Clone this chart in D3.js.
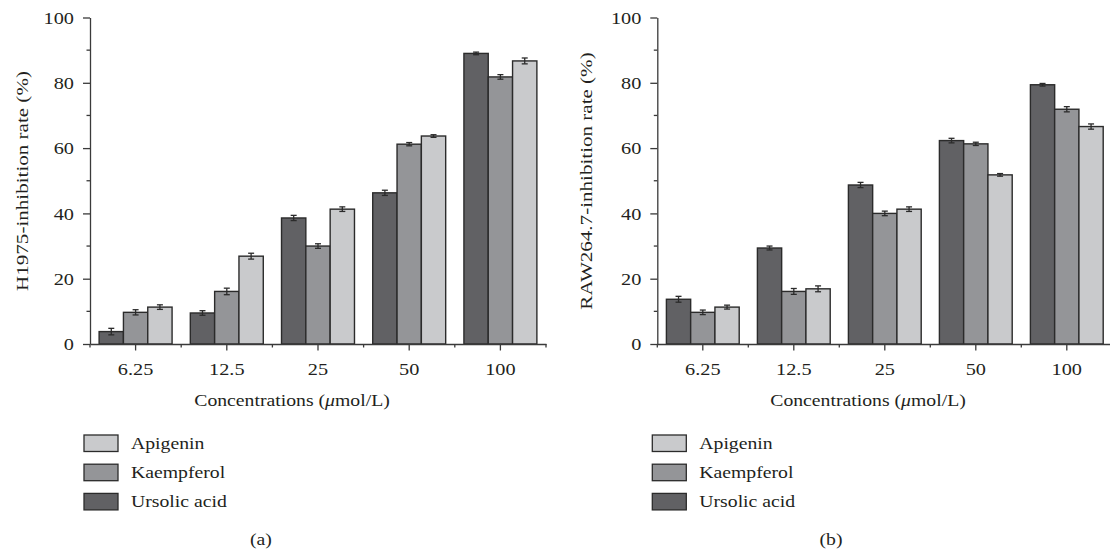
<!DOCTYPE html>
<html>
<head>
<meta charset="utf-8">
<script src="https://cdn.jsdelivr.net/npm/d3@7"></script>
<style>
  body { margin: 0; background: #fff; }
  text { font-family: "Liberation Serif", "Times New Roman", serif; font-size: 17px; fill: #231f20; }
</style>
</head>
<body>
<script>
// inhibition rates

var concentrations = ["6.25", "12.5", "25", "50", "100"];
var compounds = ["Ursolic acid", "Kaempferol", "Apigenin"];
var legendOrder = ["Apigenin", "Kaempferol", "Ursolic acid"];
var yTicks = [0, 20, 40, 60, 80, 100];
var yMinorTicks = [10, 30, 50, 70, 90];

var h1975Ursolic = [3.8, 9.5, 38.6, 46.3, 89.0];
var h1975Kaempferol = [9.7, 16.1, 30.0, 61.2, 81.8];
var h1975Apigenin = [11.3, 26.9, 41.3, 63.7, 86.7];
var h1975UrsolicErr = [1.0, 0.7, 0.8, 0.8, 0.4];
var h1975KaempferolErr = [0.8, 1.0, 0.7, 0.5, 0.7];
var h1975ApigeninErr = [0.7, 0.9, 0.7, 0.4, 0.9];

var rawUrsolic = [13.7, 29.4, 48.7, 62.3, 79.4];
var rawKaempferol = [9.7, 16.1, 40.0, 61.3, 71.9];
var rawApigenin = [11.3, 16.9, 41.3, 51.8, 66.6];
var rawUrsolicErr = [0.9, 0.6, 0.8, 0.7, 0.4];
var rawKaempferolErr = [0.7, 0.9, 0.7, 0.5, 0.8];
var rawApigeninErr = [0.6, 0.9, 0.7, 0.4, 0.8];

var colors = {"Ursolic acid": "#616164", "Kaempferol": "#949598", "Apigenin": "#c9cacc"};
var sx = 1.16;   // the original type is wider than Times
var ink = "#2b2b2b";

var width = 1110, height = 555;
var svg = d3.select("body").append("svg")
    .attr("width", width)
    .attr("height", height);

function label(g, x, y, str, anchor) {
  return g.append("text")
    .attr("transform", "translate(" + x + "," + y + ") scale(" + sx + ",1)")
    .attr("text-anchor", anchor || "start")
    .text(str);
}

function drawPanel(p) {
  var g = svg.append("g");

  var x = d3.scaleBand().domain(concentrations).range([p.left, p.right]);
  var y = d3.scaleLinear().domain([0, 100]).range([344, 17.5]);
  var sub = d3.scaleBand().domain(compounds)
      .range([0, x.bandwidth() * 0.8]);
  var off = x.bandwidth() * 0.1;

  // bars + error bars, one series at a time
  compounds.forEach(function(c, k) {
    var vals = p.values[k], errs = p.errors[k];
    var rows = concentrations.map(function(d, i) { return {cat: d, v: vals[i], e: errs[i]}; });

    g.selectAll(".bar" + k)
      .data(rows)
      .enter().append("rect")
        .attr("x", function(d) { return x(d.cat) + off + sub(c); })
        .attr("y", function(d) { return y(d.v); })
        .attr("width", sub.bandwidth())
        .attr("height", function(d) { return y(0) - y(d.v); })
        .attr("fill", colors[c])
        .attr("stroke", ink)
        .attr("stroke-width", 1.4);

    var eb = g.selectAll(".err" + k)
      .data(rows)
      .enter().append("g")
        .attr("transform", function(d) {
          return "translate(" + (x(d.cat) + off + sub(c) + sub.bandwidth() / 2) + ",0)";
        })
        .attr("stroke", ink)
        .attr("stroke-width", 1.3);
    eb.append("line")
      .attr("y1", function(d) { return y(d.v - d.e); })
      .attr("y2", function(d) { return y(d.v + d.e); });
    eb.append("line").attr("x1", -3).attr("x2", 3)
      .attr("y1", function(d) { return y(d.v + d.e); })
      .attr("y2", function(d) { return y(d.v + d.e); });
    eb.append("line").attr("x1", -3).attr("x2", 3)
      .attr("y1", function(d) { return y(d.v - d.e); })
      .attr("y2", function(d) { return y(d.v - d.e); });
  });

  // axes
  var yAxis = g.append("g")
      .attr("transform", "translate(" + p.left + ",0)")
      .call(d3.axisLeft(y).tickValues(yTicks).tickSize(7).tickSizeOuter(0).tickPadding(9));
  yAxis.selectAll("text").each(function() {
    var t = d3.select(this);
    t.attr("x", +t.attr("x") / sx).attr("transform", "scale(" + sx + ",1)");
  });
  yAxis.selectAll(".minor")
    .data(yMinorTicks)
    .enter().append("line")
      .attr("class", "minor")
      .attr("x1", -3.5).attr("x2", 0)
      .attr("y1", function(d) { return y(d); })
      .attr("y2", function(d) { return y(d); });

  var xAxis = g.append("g")
      .attr("transform", "translate(0," + y(0) + ")")
      .call(d3.axisBottom(x).tickSize(6.5).tickSizeOuter(0).tickPadding(12));
  xAxis.selectAll(".tick text").attr("transform", "scale(" + sx + ",1)");
  xAxis.selectAll(".minor")
    .data(d3.range(concentrations.length + 1))
    .enter().append("line")
      .attr("class", "minor")
      .attr("x1", function(i) { return p.left + i * x.step(); })
      .attr("x2", function(i) { return p.left + i * x.step(); })
      .attr("y1", 0).attr("y2", 3.5);

  g.selectAll(".domain, .tick line, .minor")
    .attr("stroke", "#3a3a3a")
    .attr("stroke-width", 1.3);
  g.selectAll(".tick text")
    .attr("fill", "#231f20")
    .style("font-size", "17.5px")
    .style("font-family", "'Liberation Serif', serif");

  // axis titles
  var xt = label(g, p.xTitleX, 406, "", "middle");
  xt.append("tspan").text("Concentrations (");
  xt.append("tspan").style("font-style", "italic").text("\u03bc");
  xt.append("tspan").text("mol/L)");

  g.append("text")
    .attr("transform", "translate(" + p.yTitleX + ",181) rotate(-90) scale(1.24,1)")
    .attr("text-anchor", "middle")
    .text(p.yTitle);

  // legend
  legendOrder.forEach(function(c, i) {
    var by = 449 + i * 29.2;
    g.append("rect")
      .attr("x", p.legendX).attr("y", by - 14)
      .attr("width", 34).attr("height", 16.5)
      .attr("fill", colors[c])
      .attr("stroke", ink)
      .attr("stroke-width", 1.3);
    label(g, p.legendX + 47, by, c);
  });

  label(g, p.tagX, 545, p.tag, "middle");
}

drawPanel({
  left: 90, right: 546,
  values: [h1975Ursolic, h1975Kaempferol, h1975Apigenin],
  errors: [h1975UrsolicErr, h1975KaempferolErr, h1975ApigeninErr],
  yTitle: "H1975-inhibition rate (%)", yTitleX: 28,
  xTitleX: 292, legendX: 84, tag: "(a)", tagX: 261
});

drawPanel({
  left: 657.3, right: 1112.3,
  values: [rawUrsolic, rawKaempferol, rawApigenin],
  errors: [rawUrsolicErr, rawKaempferolErr, rawApigeninErr],
  yTitle: "RAW264.7-inhibition rate (%)", yTitleX: 592,
  xTitleX: 868, legendX: 652.3, tag: "(b)", tagX: 831
});
</script>
</body>
</html>
